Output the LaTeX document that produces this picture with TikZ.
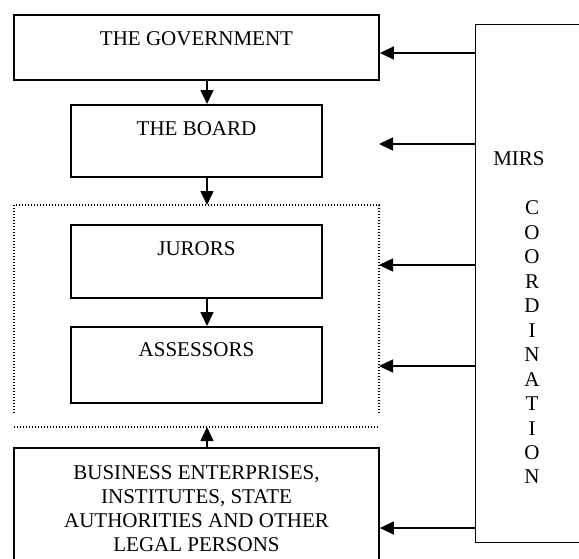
\documentclass[tikz,border=0pt]{standalone}
\usepackage{fontspec}
\setmainfont{Liberation Serif}
\usetikzlibrary{arrows.meta}
\begin{document}
\begin{tikzpicture}[x=1pt,y=-1pt,
  every node/.style={font=\fontsize{21}{24}\selectfont, inner sep=0pt},
  box/.style={draw, line width=1.8pt, minimum width=#1, anchor=north},
  cbox/.style={draw, line width=1.4pt},
  arr/.style={line width=1.5pt, -{Triangle[length=14pt,width=13pt]}},
  grp/.style={line width=1.2pt, dash pattern=on 1pt off 2pt}]
\useasboundingbox (0,0) rectangle (579,558);

% organisational chain
\node[box=365, text height=31pt, text depth=34pt] (gov) at (196.5,14) {THE GOVERNMENT};
\node[box=251, text height=31pt, text depth=41pt] (board) at (196.5,104) {THE BOARD};
\node[box=251, text height=31pt, text depth=42pt] (jurors) at (196.5,224) {JURORS};
\node[box=251, text height=30pt, text depth=46pt] (assessors) at (196.5,326) {ASSESSORS};
\node[box=365, minimum height=121pt, align=center] (business) at (196.5,447)
  {BUSINESS ENTERPRISES,\\INSTITUTES, STATE\\AUTHORITIES AND OTHER\\LEGAL PERSONS};

% dotted frame round jurors and assessors
\coordinate (gtl) at (14,205);
\coordinate (gtr) at (379,205);
\coordinate (gbl) at (14,427);
\coordinate (gbr) at (379,427);
\draw[grp] (14,413) -- (gtl) -- (gtr) -- (379,413);
\draw[grp] (gbl) -- (gbr);

% coordination box
\node[cbox, anchor=north west, minimum width=140pt, minimum height=518pt] (mirs) at (475,24) {};
\node (mirslabel) at (519,159) {MIRS};
\node[align=center, font=\fontsize{21}{24.45}\selectfont] (coord) at (532,342.5)
  {C\\O\\O\\R\\D\\I\\N\\A\\T\\I\\O\\N};

% vertical flow
\coordinate (ax) at (207,0);
\draw[arr] (gov.south -| ax) -- (board.north -| ax);
\draw[arr] (board.south -| ax) -- (gtl -| ax);
\draw[arr] (jurors.south -| ax) -- (assessors.north -| ax);
\draw[arr] (business.north -| ax) -- (gbl -| ax);

% coordination links
\coordinate (boardlink) at (379,144);
\draw[arr] (mirs.west |- 0,53) -- (gov.east |- 0,53);
\draw[arr] (mirs.west |- boardlink) -- (boardlink);
\draw[arr] (mirs.west |- 0,265) -- (gtr |- 0,265);
\draw[arr] (mirs.west |- 0,366) -- (gtr |- 0,366);
\draw[arr] (mirs.west |- 0,528) -- (business.east |- 0,528);
\end{tikzpicture}
\end{document}
